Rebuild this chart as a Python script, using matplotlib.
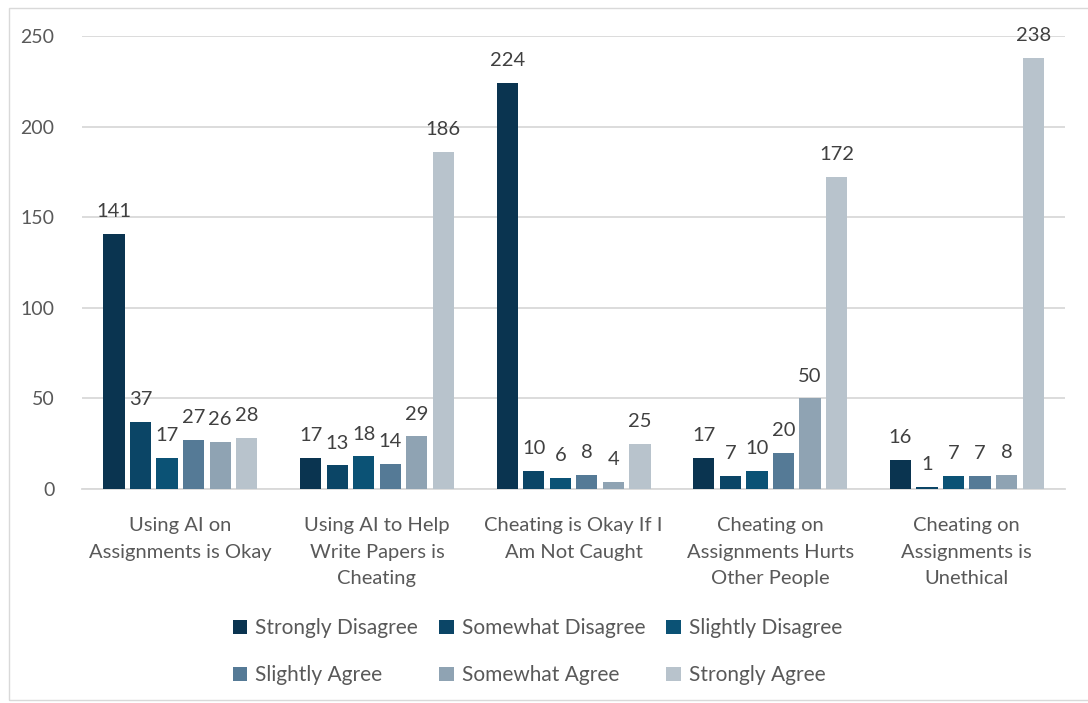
import numpy as np
import matplotlib.pyplot as plt
from matplotlib.patches import Rectangle

plt.rcParams['font.family'] = ['Lato', 'DejaVu Sans']

# data
categories = ["Using AI on\nAssignments is Okay",
              "Using AI to Help\nWrite Papers is\nCheating",
              "Cheating is Okay If I\nAm Not Caught",
              "Cheating on\nAssignments Hurts\nOther People",
              "Cheating on\nAssignments is\nUnethical"]
series_names = ["Strongly Disagree", "Somewhat Disagree", "Slightly Disagree",
                "Slightly Agree", "Somewhat Agree", "Strongly Agree"]
strongly_disagree = [141, 17, 224, 17, 16]
somewhat_disagree = [37, 13, 10, 7, 1]
slightly_disagree = [17, 18, 6, 10, 7]
slightly_agree = [27, 14, 8, 20, 7]
somewhat_agree = [26, 29, 4, 50, 8]
strongly_agree = [28, 186, 25, 172, 238]

series_values = [strongly_disagree, somewhat_disagree, slightly_disagree,
                 slightly_agree, somewhat_agree, strongly_agree]
colors = ["#0a3450", "#0b4566", "#0b5275", "#557a96", "#8fa3b3", "#b8c3cc"]

fig = plt.figure(figsize=(10.88, 7.03), dpi=100)
ax = fig.add_axes([0.0754, 0.3044, 0.9036, 0.6444])

# light frame round the chart
fig.patches.append(Rectangle((0.008, 0.004), 0.995, 0.985, transform=fig.transFigure,
                             fill=False, edgecolor="#d9d9d9", linewidth=1))

x = np.arange(len(categories))
step = 0.135
width = 0.108
for i, (name, vals) in enumerate(zip(series_names, series_values)):
    pos = x + (i - 2.5) * step
    bars = ax.bar(pos, vals, width=width, color=colors[i], label=name, zorder=3)
    ax.bar_label(bars, padding=10, fontsize=14.5, color="#404040")

ax.set_xlim(-0.5, len(categories) - 0.5)
ax.set_ylim(0, 250)
ax.set_yticks(range(0, 251, 50))
ax.yaxis.grid(True, color="#d9d9d9", linewidth=1.3, zorder=0)
ax.set_xticks(x)
ax.set_xticklabels(categories, fontsize=14.5, color="#595959", linespacing=1.7)
ax.tick_params(axis='both', length=0, labelsize=14, labelcolor="#595959")
ax.tick_params(axis='x', pad=20, labelsize=14.5)
ax.tick_params(axis='y', pad=20)
for s in ["top", "right", "left"]:
    ax.spines[s].set_visible(False)
ax.spines["bottom"].set_color("#d9d9d9")
ax.spines["bottom"].set_linewidth(1.3)

# legend filled row by row
handles, labels = ax.get_legend_handles_labels()
order = [0, 3, 1, 4, 2, 5]
fig.legend([handles[k] for k in order], [labels[k] for k in order],
           loc="center", bbox_to_anchor=(0.494, 0.073), ncol=3, frameon=False,
           fontsize=15, labelcolor="#595959", handlelength=0.7, handleheight=0.7,
           handletextpad=0.4, columnspacing=1.0, labelspacing=1.3)

fig.savefig("out.png", dpi=100)
